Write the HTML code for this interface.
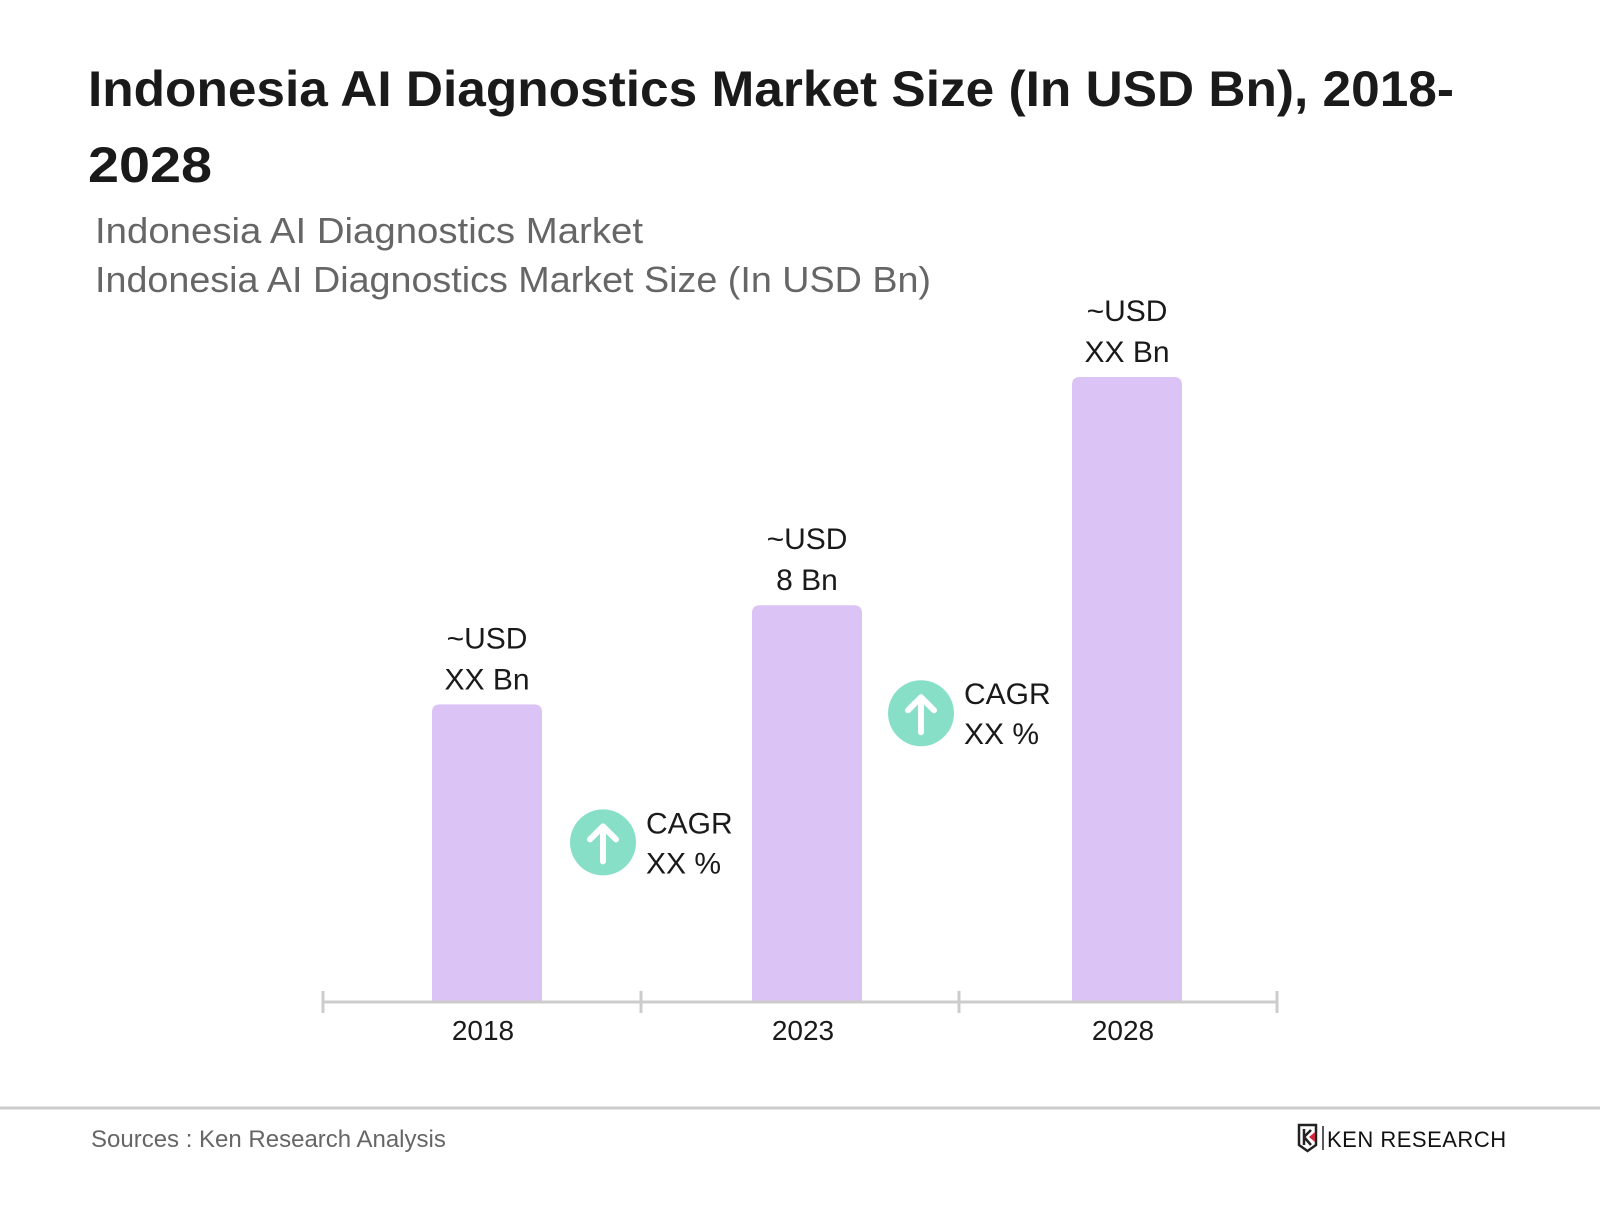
<!DOCTYPE html>
<html><head><meta charset="utf-8"><style>
html,body{margin:0;padding:0;background:#fff;}
body{width:1600px;height:1200px;overflow:hidden;position:relative;font-family:"Liberation Sans",sans-serif;}
</style></head><body>
<svg width="1600" height="1200" viewBox="0 0 1600 1200" xmlns="http://www.w3.org/2000/svg" style="font-family:'Liberation Sans',sans-serif">
<text x="88" y="106" font-size="50" font-weight="bold" fill="#1a1a1a" textLength="1366" lengthAdjust="spacingAndGlyphs">Indonesia AI Diagnostics Market Size (In USD Bn), 2018-</text>
<text x="88" y="182" font-size="50" font-weight="bold" fill="#1a1a1a" textLength="124" lengthAdjust="spacingAndGlyphs">2028</text>
<text x="95" y="243" font-size="36" fill="#666" textLength="548" lengthAdjust="spacingAndGlyphs">Indonesia AI Diagnostics Market</text>
<text x="95" y="292" font-size="36" fill="#666" textLength="836" lengthAdjust="spacingAndGlyphs">Indonesia AI Diagnostics Market Size (In USD Bn)</text>
<g id="plot"></g>
<line x1="0" y1="1108" x2="1600" y2="1108" stroke="#cccccc" stroke-width="3"/>
<text x="91" y="1147" font-size="24" fill="#666">Sources : Ken Research Analysis</text>
<g>
<path d="M1299 1125 h17 v20 l-8.5 6 l-8.5 -6 z" fill="none" stroke="#222" stroke-width="2.5"/>
<path d="M1304 1129 v16 M1304 1137 l7 -7 M1304 1137 l7 8" stroke="#222" stroke-width="2.5" fill="none"/>
<path d="M1309 1137 l6 -5 v10 z" fill="#d0283a"/>
<line x1="1323" y1="1126" x2="1323" y2="1150" stroke="#222" stroke-width="1.5"/>
<text x="1327" y="1147" font-size="22" fill="#111" letter-spacing="0.5">KEN RESEARCH</text>
</g>
</svg>
<script>
const categories=["2018","2023","2028"];
const values=[6,8,12.6];
const valueLabels=[["~USD","XX Bn"],["~USD","8 Bn"],["~USD","XX Bn"]];
const cagrLabels=[["CAGR","XX %"],["CAGR","XX %"]];
const NS="http://www.w3.org/2000/svg";
const g=document.getElementById('plot');
const baseY=1002, pxPerUnit=49.6, x0=323, bandW=318, barW=110, barStart=487, barStep=320;
const cagrOffsets=[138,108];
function xBar(i){return barStart+barStep*i;}
function yScale(v){return baseY-v*pxPerUnit;}
function mk(tag,attrs){const e=document.createElementNS(NS,tag);for(const k in attrs)e.setAttribute(k,attrs[k]);g.appendChild(e);return e;}
categories.forEach((c,i)=>{
  const cx=xBar(i), top=yScale(values[i]);
  const b=mk('path',{d:`M${cx-barW/2} ${baseY} V${top+8} Q${cx-barW/2} ${top} ${cx-barW/2+8} ${top} H${cx+barW/2-8} Q${cx+barW/2} ${top} ${cx+barW/2} ${top+8} V${baseY} Z`,fill:'#dcc3f5'});
  
  
  valueLabels[i].forEach((t,j)=>{
    const tx=mk('text',{x:cx,y:top-56+j*41,'font-size':30,'text-anchor':'middle',fill:'#1a1a1a'});
    tx.textContent=t;
    
    
  });
  const yl=mk('text',{x:cx-4,y:1040,'font-size':28,'text-anchor':'middle',fill:'#1a1a1a'});
  yl.textContent=c;
  
  
});
const ax=mk('line',{x1:x0,y1:baseY,x2:x0+bandW*categories.length,y2:baseY,stroke:'#cccccc','stroke-width':3});


for(let i=0;i<=categories.length;i++){
  const t=mk('line',{x1:x0+bandW*i,y1:baseY-11,x2:x0+bandW*i,y2:baseY+11,stroke:'#cccccc','stroke-width':3});
  
  
}
cagrLabels.forEach((lab,i)=>{
  const cx=x0+bandW*(i+1)-38, cy=yScale(values[i])+cagrOffsets[i];
  const c=mk('circle',{cx:cx,cy:cy,r:33,fill:'#88dfc8'});
  
  
  const a=mk('path',{d:`M${cx} ${cy+19} V${cy-16} M${cx-13} ${cy-3} L${cx} ${cy-16} L${cx+13} ${cy-3}`,stroke:'#fff','stroke-width':6,fill:'none','stroke-linecap':'round','stroke-linejoin':'round'});
  
  
  lab.forEach((t,j)=>{
    const tx=mk('text',{x:cx+43,y:cy-9+j*40,'font-size':30,fill:'#1a1a1a'});
    tx.textContent=t;
    
    
  });
});
</script>
</body></html>
